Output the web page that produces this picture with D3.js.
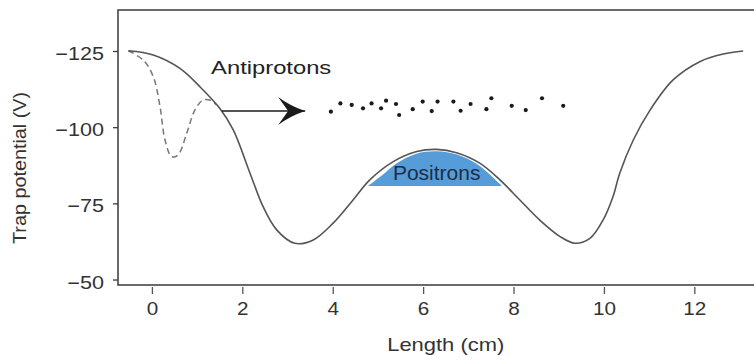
<!DOCTYPE html>
<html>
<head>
<meta charset="utf-8">
<script src="https://cdn.jsdelivr.net/npm/d3@7"></script>
<style>
  html, body { margin: 0; padding: 0; background: #fff; }
  svg { display: block; font-family: "Liberation Sans", Arial, Helvetica, sans-serif; }
</style>
</head>
<body>
<svg id="chart" width="754" height="360"></svg>
<script>
// Trap potential along the trap (cm, V)
const wellX = [-0.52, 0.03, 0.62, 1.06, 1.50, 1.80, 2.17, 2.46, 2.76, 3.16, 3.57, 4.01, 4.45, 4.82, 5.34, 5.86, 6.30, 6.74, 7.26, 7.70, 8.14, 8.58, 9.03, 9.36, 9.69, 9.98, 10.20, 10.35, 10.65, 11.02, 11.53, 12.12, 12.64, 13.08];
const wellV = [-125.1, -123.7, -119.3, -113.3, -106.2, -99.1, -84.9, -73.9, -66.3, -61.9, -63.0, -68.5, -76.1, -82.7, -88.7, -92.0, -92.7, -91.6, -88.1, -82.7, -76.1, -69.5, -64.1, -61.9, -63.5, -69.5, -77.2, -84.9, -95.8, -105.6, -115.5, -121.5, -124.0, -125.0];

// Loading well used to launch the antiprotons (dashed)
const loadX = [-0.52, -0.19, 0.03, 0.18, 0.29, 0.44, 0.58, 0.77, 0.95, 1.13, 1.28, 1.43];
const loadV = [-125.1, -122.0, -116.6, -106.7, -95.8, -90.3, -90.9, -98.0, -105.6, -108.9, -108.9, -107.3];

// Positron cloud sitting in the central nested well
const posX = [4.78, 5.10, 5.40, 5.85, 6.30, 6.75, 7.20, 7.45, 7.74];
const posV = [-80.7, -84.3, -88.0, -91.3, -92.1, -91.0, -87.8, -84.8, -80.7];
const posFloor = -80.7;

// Antiproton positions
const pbarX = [3.96, 4.17, 4.42, 4.67, 4.86, 5.07, 5.18, 5.40, 5.47, 5.77, 5.99, 6.19, 6.32, 6.67, 6.83, 7.05, 7.40, 7.51, 7.96, 8.27, 8.63, 9.10];
const pbarV = [-105.1, -107.8, -107.3, -106.2, -107.8, -106.2, -108.7, -107.6, -104.0, -105.9, -108.4, -105.3, -108.4, -108.4, -105.4, -107.6, -105.9, -109.5, -107.0, -105.6, -109.5, -107.0];

// Injection arrow (cm, V)
const arrowX = [1.55, 3.39];
const arrowV = -105.3;

const xTicks = [0, 2, 4, 6, 8, 10, 12];
const yTicks = [-125, -100, -75, -50];

const svg = d3.select("#chart");
const plotLeft = 118, plotRight = 754, plotTop = 10, plotBottom = 285;

const x = d3.scaleLinear().domain([-0.75, 13.32]).range([plotLeft, plotRight]);
const y = d3.scaleLinear().domain([-138.46, -48.2]).range([plotTop, plotBottom]);

const ink = "#3a3a3a";
const textInk = "#333";

// Positron fill
const posData = posX.map((d, i) => [d, posV[i]]);
svg.append("path")
  .datum(posData)
  .attr("fill", "#559cd9")
  .attr("d", d3.area()
    .x(d => x(d[0]))
    .y0(y(posFloor))
    .y1(d => y(d[1]))
    .curve(d3.curveCatmullRom.alpha(0.5)));

svg.append("text")
  .attr("text-anchor", "middle")
  .attr("font-size", 20)
  .attr("fill", "#1e2d42")
  .attr("transform", `translate(${x(6.3)},${y(posFloor) - 6}) scale(1.05,1)`)
  .text("Positrons");

// Potential curves
const lineGen = d3.line()
  .x(d => x(d[0]))
  .y(d => y(d[1]))
  .curve(d3.curveCatmullRom.alpha(0.5));

svg.append("path")
  .datum(loadX.map((d, i) => [d, loadV[i]]))
  .attr("fill", "none")
  .attr("stroke", "#777")
  .attr("stroke-width", 1.5)
  .attr("stroke-dasharray", "6,4")
  .attr("d", lineGen);

svg.append("path")
  .datum(wellX.map((d, i) => [d, wellV[i]]))
  .attr("fill", "none")
  .attr("stroke", "#555")
  .attr("stroke-width", 1.6)
  .attr("d", lineGen);

// Arrow
const defs = svg.append("defs");
defs.append("marker")
  .attr("id", "head")
  .attr("markerUnits", "userSpaceOnUse")
  .attr("viewBox", "0 -15 28 30")
  .attr("refX", 27)
  .attr("refY", 0)
  .attr("markerWidth", 28)
  .attr("markerHeight", 30)
  .attr("orient", "auto")
  .append("path")
  .attr("d", "M0,-14 Q12,-5 27,0 Q12,5 0,14 L10,0 Z")
  .attr("fill", "#1a1a1a");

svg.append("line")
  .attr("x1", x(arrowX[0]))
  .attr("x2", x(arrowX[1]))
  .attr("y1", y(arrowV))
  .attr("y2", y(arrowV))
  .attr("stroke", "#1a1a1a")
  .attr("stroke-width", 1.5)
  .attr("marker-end", "url(#head)");

// Antiprotons
svg.append("g")
  .selectAll("circle")
  .data(pbarX.map((d, i) => [d, pbarV[i]]))
  .join("circle")
  .attr("cx", d => x(d[0]))
  .attr("cy", d => y(d[1]))
  .attr("r", 2.1)
  .attr("fill", "#1a1a1a");

svg.append("text")
  .attr("font-size", 19)
  .attr("fill", "#222")
  .attr("transform", `translate(${x(1.31)},${y(-117.3)}) scale(1.25,1)`)
  .text("Antiprotons");

// Frame (open on the right)
svg.append("path")
  .attr("d", `M${plotRight},${plotTop}H${plotLeft}V${plotBottom}H${plotRight}`)
  .attr("fill", "none")
  .attr("stroke", ink)
  .attr("stroke-width", 1.5);

// Axes
const yAxis = svg.append("g")
  .attr("transform", `translate(${plotLeft},0)`)
  .call(d3.axisLeft(y).tickValues(yTicks).tickSize(5).tickSizeOuter(0));
yAxis.select(".domain").remove();
yAxis.selectAll(".tick line").attr("stroke", ink).attr("stroke-width", 1.3);
yAxis.selectAll(".tick text")
  .attr("x", 0)
  .attr("dy", "0.36em")
  .attr("font-size", 18)
  .attr("fill", textInk)
  .attr("transform", "translate(-14,2) scale(1.2,1)");

const xAxis = svg.append("g")
  .attr("transform", `translate(0,${plotBottom})`)
  .call(d3.axisBottom(x).tickValues(xTicks).tickSize(9).tickPadding(8).tickSizeOuter(0));
xAxis.select(".domain").remove();
xAxis.selectAll(".tick line").attr("stroke", "#555").attr("stroke-width", 1.3).attr("y1", 2);
xAxis.selectAll(".tick text")
  .attr("font-size", 18)
  .attr("fill", textInk)
  .attr("transform", "scale(1.15,1)");

svg.selectAll(".tick text").attr("font-family", null);

// Axis titles
svg.append("text")
  .attr("font-size", 18)
  .attr("fill", textInk)
  .attr("text-anchor", "middle")
  .attr("transform", `translate(${x(6.5)},351) scale(1.22,1)`)
  .text("Length (cm)");

svg.append("text")
  .attr("font-size", 18)
  .attr("fill", textInk)
  .attr("text-anchor", "middle")
  .attr("transform", `translate(26,168) rotate(-90) scale(1.1,1)`)
  .text("Trap potential (V)");
</script>
</body>
</html>
